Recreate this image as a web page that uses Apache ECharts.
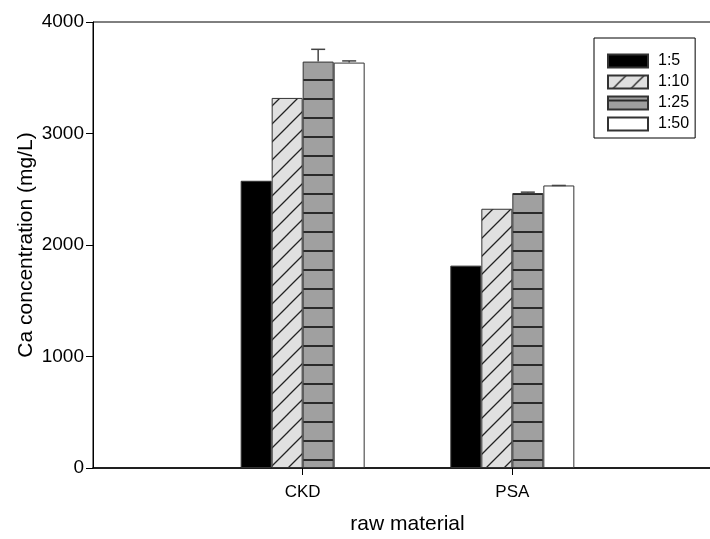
<!DOCTYPE html>
<html>
<head>
<meta charset="utf-8">
<script src="https://cdn.jsdelivr.net/npm/echarts@6/dist/echarts.min.js"></script>
<style>html,body{margin:0;padding:0;background:#fff;}#c{width:710px;height:539px;}</style>
</head>
<body>
<div id="c"></div>
<script>
const categories = ['CKD', 'PSA'];
const seriesNames = ['1:5', '1:10', '1:25', '1:50'];
const values_1_5 = [2576, 1815];
const values_1_10 = [3319, 2325];
const values_1_25 = [3645, 2466];
const values_1_50 = [3636, 2534];
const err_1_25 = [110, 8];
const err_1_50 = [15, 0];
const yTicks = [0, 1000, 2000, 3000, 4000];

function makeDiag() {
  const c = document.createElement('canvas'); c.width = 18; c.height = 18;
  const g = c.getContext('2d');
  g.fillStyle = '#e0e0e0'; g.fillRect(0, 0, 18, 18);
  g.strokeStyle = '#222'; g.lineWidth = 1.3;
  g.beginPath();
  g.moveTo(-2, 20); g.lineTo(20, -2);
  g.moveTo(-2, 2); g.lineTo(2, -2);
  g.moveTo(16, 20); g.lineTo(20, 16);
  g.stroke();
  return c;
}
function makeHoriz() {
  const c = document.createElement('canvas'); c.width = 8; c.height = 19;
  const g = c.getContext('2d');
  g.fillStyle = '#a0a0a0'; g.fillRect(0, 0, 8, 19);
  g.fillStyle = '#2a2a2a'; g.fillRect(0, 3, 8, 2);
  return c;
}
const diagPat = { image: makeDiag(), repeat: 'repeat' };
const horizPat = { image: makeHoriz(), repeat: 'repeat' };

const axisCats = [''].concat(categories, ['']);
function pad(arr) { return [null].concat(arr, [null]); }

const barW = 31;
const offsets = [-1.5 * barW, -0.5 * barW, 0.5 * barW, 1.5 * barW];
const errData = [];
categories.forEach((c, i) => {
  errData.push([i + 1, values_1_25[i], err_1_25[i], 2]);
  errData.push([i + 1, values_1_50[i], err_1_50[i], 3]);
});

const font = 'Liberation Sans, Arial, sans-serif';
const border = { borderColor: '#333', borderWidth: 1 };
const chart = echarts.init(document.getElementById('c'), null, { renderer: 'canvas' });
chart.setOption({
  animation: false,
  backgroundColor: '#fff',
  grid: { left: 93, top: 22, width: 629, height: 446, show: true, borderColor: '#000', borderWidth: 1, containLabel: false, outerBoundsMode: 'none' },
  legend: {
    data: seriesNames, orient: 'vertical', left: 594, top: 38,
    itemWidth: 40, itemHeight: 13, itemGap: 5,
    padding: [15, 6, 6, 13], borderColor: '#000', borderWidth: 1,
    backgroundColor: '#fff', icon: 'rect',
    textStyle: { fontFamily: font, fontSize: 16, color: '#000', padding: [0, 0, 0, 5] }
  },
  xAxis: {
    type: 'category', data: axisCats, boundaryGap: false,
    name: 'raw material', nameLocation: 'middle', nameGap: 46, nameMoveOverlap: false,
    nameTextStyle: { fontFamily: font, fontSize: 21, color: '#000' },
    axisLine: { lineStyle: { color: '#000', width: 1.5 } },
    axisTick: { show: true, length: 7, lineStyle: { color: '#000' }, interval: function (i) { return i === 1 || i === 2; } },
    axisLabel: { fontFamily: font, fontSize: 17, color: '#000', margin: 16, interval: 0 },
    splitLine: { show: false }
  },
  yAxis: {
    type: 'value', min: yTicks[0], max: yTicks[yTicks.length - 1], interval: 1000,
    name: 'Ca concentration (mg/L)', nameLocation: 'middle', nameGap: 56, nameRotate: 90, nameMoveOverlap: false,
    nameTextStyle: { fontFamily: font, fontSize: 21, color: '#000' },
    axisLine: { show: true, lineStyle: { color: '#000', width: 1 } },
    axisTick: { show: true, length: 7, lineStyle: { color: '#000' } },
    axisLabel: { fontFamily: font, fontSize: 19, color: '#000', margin: 9, formatter: function (v) { return String(v); } },
    splitLine: { show: false }
  },
  series: [
    { name: seriesNames[0], type: 'bar', data: pad(values_1_5), barWidth: barW, barGap: '0%', itemStyle: Object.assign({ color: '#000' }, border) },
    { name: seriesNames[1], type: 'bar', data: pad(values_1_10), barWidth: barW, barGap: '0%', itemStyle: Object.assign({ color: diagPat }, border) },
    { name: seriesNames[2], type: 'bar', data: pad(values_1_25), barWidth: barW, barGap: '0%', itemStyle: Object.assign({ color: horizPat }, border) },
    { name: seriesNames[3], type: 'bar', data: pad(values_1_50), barWidth: barW, barGap: '0%', itemStyle: Object.assign({ color: '#fff' }, border) },
    {
      name: 'err', type: 'custom', z: 10, data: errData,
      renderItem: function (params, api) {
        const idx = api.value(3);
        const base = api.coord([api.value(0), api.value(1)]);
        const top = api.coord([api.value(0), api.value(1) + api.value(2)]);
        const x = base[0] + offsets[idx];
        const st = { stroke: '#444', lineWidth: 1.5 };
        return { type: 'group', children: [
          { type: 'line', shape: { x1: x, y1: base[1], x2: x, y2: top[1] }, style: st },
          { type: 'line', shape: { x1: x - 7, y1: top[1], x2: x + 7, y2: top[1] }, style: st }
        ] };
      }
    }
  ]
});
</script>
</body>
</html>
